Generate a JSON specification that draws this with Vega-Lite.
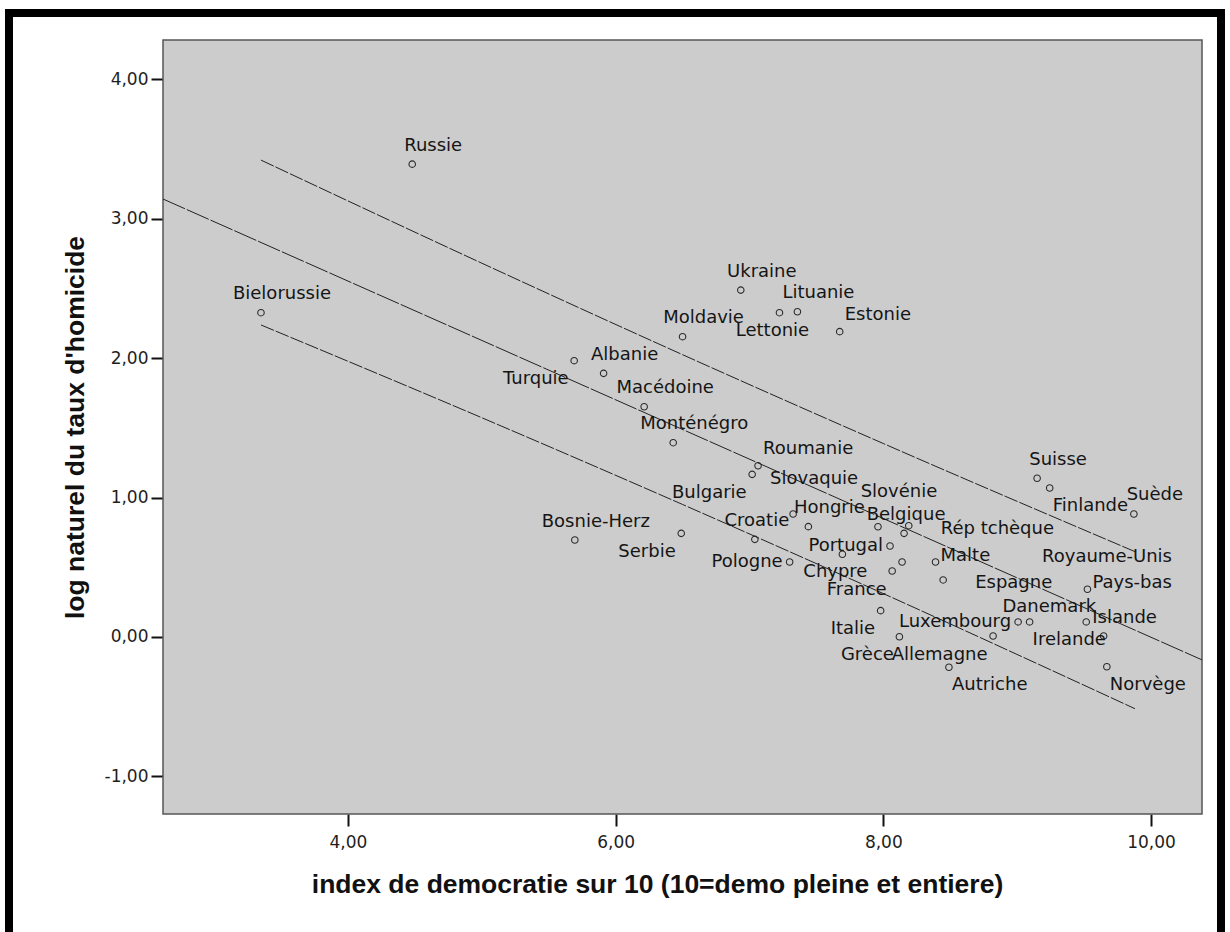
{
  "$schema": "https://vega.github.io/schema/vega-lite/v6.json",
  "width": 1212,
  "height": 924,
  "autosize": {"type": "none"},
  "padding": {"left": 9, "top": 13, "right": 9, "bottom": -5},
  "background": "white",
  "config": {
    "view": {"fill": "white", "stroke": "black", "strokeWidth": 8},
    "axis": {
      "grid": false,
      "domain": false,
      "tickColor": "#111111",
      "tickWidth": 2,
      "tickSize": 12,
      "labelFont": "DejaVu Sans",
      "labelFontSize": 17,
      "labelColor": "#1e1e1e",
      "labelFlush": false,
      "labelOverlap": false,
      "titleFont": "Liberation Sans",
      "titleFontSize": 26.5,
      "titleFontWeight": "bold",
      "titleColor": "#111111"
    },
    "axisX": {
      "orient": "bottom",
      "offset": -123,
      "labelExpr": "replace(format(datum.value, '.2f'), '.', ',')",
      "labelPadding": 8,
      "titlePadding": 21,
      "titleX": 648
    },
    "axisY": {
      "orient": "left",
      "offset": -154,
      "labelExpr": "replace(replace(format(datum.value, '.2f'), '.', ','), '\u2212', '-')",
      "labelPadding": 3,
      "titlePadding": 15
    },
    "text": {"font": "DejaVu Sans", "fontSize": 18, "color": "#151515", "baseline": "middle"}
  },
  "datasets": {
    "pays": [
      {"pays": "Russie", "democratie": 4.48, "log_homicide": 3.39, "place": "n"},
      {"pays": "Bielorussie", "democratie": 3.35, "log_homicide": 2.325, "place": "n"},
      {"pays": "Ukraine", "democratie": 6.935, "log_homicide": 2.487, "place": "n"},
      {"pays": "Lituanie", "democratie": 7.358, "log_homicide": 2.332, "place": "n"},
      {"pays": "Lettonie", "democratie": 7.224, "log_homicide": 2.325, "place": "s"},
      {"pays": "Estonie", "democratie": 7.674, "log_homicide": 2.189, "place": "ne"},
      {"pays": "Moldavie", "democratie": 6.5, "log_homicide": 2.153, "place": "n"},
      {"pays": "Turquie", "democratie": 5.69, "log_homicide": 1.981, "place": "sw"},
      {"pays": "Albanie", "democratie": 5.91, "log_homicide": 1.89, "place": "n"},
      {"pays": "Macédoine", "democratie": 6.213, "log_homicide": 1.651, "place": "n"},
      {"pays": "Monténégro", "democratie": 6.43, "log_homicide": 1.393, "place": "n"},
      {"pays": "Roumanie", "democratie": 7.064, "log_homicide": 1.228, "place": "ne"},
      {"pays": "Bulgarie", "democratie": 7.02, "log_homicide": 1.166, "place": "sw"},
      {"pays": "Croatie", "democratie": 7.04, "log_homicide": 0.7, "place": "nc"},
      {"pays": "Serbie", "democratie": 6.49, "log_homicide": 0.743, "place": "sw"},
      {"pays": "Bosnie-Herz", "democratie": 5.695, "log_homicide": 0.695, "place": "n"},
      {"pays": "Pologne", "democratie": 7.3, "log_homicide": 0.538, "place": "w"},
      {"pays": "Slovaquie", "democratie": 7.326, "log_homicide": 0.882, "place": "nn"},
      {"pays": "Hongrie", "democratie": 7.44, "log_homicide": 0.791, "place": "n"},
      {"pays": "Slovénie", "democratie": 7.96, "log_homicide": 0.79, "place": "nn"},
      {"pays": "Rép tchèque", "democratie": 8.19, "log_homicide": 0.798, "place": "ee"},
      {"pays": "Belgique", "democratie": 8.155, "log_homicide": 0.743, "place": "nc"},
      {"pays": "Chypre", "democratie": 7.694, "log_homicide": 0.593, "place": "s"},
      {"pays": "Portugal", "democratie": 8.05, "log_homicide": 0.652, "place": "w"},
      {"pays": "Royaume-Unis", "democratie": 8.14, "log_homicide": 0.538, "place": "far"},
      {"pays": "France", "democratie": 8.066, "log_homicide": 0.473, "place": "sw"},
      {"pays": "Malte", "democratie": 8.39, "log_homicide": 0.538, "place": "e"},
      {"pays": "Espagne", "democratie": 8.447, "log_homicide": 0.409, "place": "ee"},
      {"pays": "Suisse", "democratie": 9.149, "log_homicide": 1.138, "place": "n"},
      {"pays": "Finlande", "democratie": 9.243, "log_homicide": 1.068, "place": "se"},
      {"pays": "Suède", "democratie": 9.872, "log_homicide": 0.882, "place": "n"},
      {"pays": "Pays-bas", "democratie": 9.525, "log_homicide": 0.342, "place": "e"},
      {"pays": "Italie", "democratie": 7.98, "log_homicide": 0.189, "place": "sw"},
      {"pays": "Grèce", "democratie": 8.12, "log_homicide": 0.002, "place": "sw"},
      {"pays": "Allemagne", "democratie": 8.82, "log_homicide": 0.007, "place": "sw"},
      {"pays": "Luxembourg", "democratie": 9.007, "log_homicide": 0.108, "place": "w"},
      {"pays": "Irelande", "democratie": 9.093, "log_homicide": 0.108, "place": "se"},
      {"pays": "Danemark", "democratie": 9.516, "log_homicide": 0.108, "place": "nw"},
      {"pays": "Islande", "democratie": 9.646, "log_homicide": 0.007, "place": "n"},
      {"pays": "Autriche", "democratie": 8.49, "log_homicide": -0.217, "place": "se"},
      {"pays": "Norvège", "democratie": 9.67, "log_homicide": -0.213, "place": "se"}
    ],
    "ajustement": [
      {"courbe": "moyenne", "democratie": 2.618, "log_homicide": 3.14},
      {"courbe": "moyenne", "democratie": 10.381, "log_homicide": -0.164},
      {"courbe": "haute", "democratie": 3.35, "log_homicide": 3.419},
      {"courbe": "haute", "democratie": 5.0, "log_homicide": 2.68},
      {"courbe": "haute", "democratie": 6.5, "log_homicide": 2.024},
      {"courbe": "haute", "democratie": 8.0, "log_homicide": 1.387},
      {"courbe": "haute", "democratie": 9.88, "log_homicide": 0.612},
      {"courbe": "basse", "democratie": 3.35, "log_homicide": 2.237},
      {"courbe": "basse", "democratie": 5.0, "log_homicide": 1.572},
      {"courbe": "basse", "democratie": 6.5, "log_homicide": 0.95},
      {"courbe": "basse", "democratie": 8.0, "log_homicide": 0.311},
      {"courbe": "basse", "democratie": 9.88, "log_homicide": -0.514}
    ]
  },
  "layer": [
    {
      "data": {"values": [{"zone": "graphique"}]},
      "mark": {"type": "rect", "fill": "#cccccc", "stroke": "#555555", "strokeWidth": 1.5},
      "encoding": {
        "x": {"datum": 2.618, "type": "quantitative", "scale": {"domain": [2.618, 10.381], "range": [154, 1193], "zero": false, "nice": false}, "title": "index de democratie sur 10 (10=demo pleine et entiere)", "axis": {"values": [4, 6, 8, 10]}},
        "x2": {"datum": 10.381},
        "y": {"datum": -1.269, "type": "quantitative", "scale": {"domain": [-1.269, 4.28], "range": [801, 27], "zero": false, "nice": false}, "title": "log naturel du taux d'homicide", "axis": {"values": [-1, 0, 1, 2, 3, 4]}},
        "y2": {"datum": 4.28}
      }
    },
    {
      "data": {"name": "ajustement"},
      "transform": [{"filter": "datum.courbe === 'moyenne'"}],
      "mark": {"type": "line", "color": "#222222", "strokeWidth": 1, "strokeDash": [24, 2]},
      "encoding": {
        "x": {"field": "democratie", "type": "quantitative", "scale": {"domain": [2.618, 10.381], "range": [154, 1193], "zero": false, "nice": false}, "title": "index de democratie sur 10 (10=demo pleine et entiere)", "axis": {"values": [4, 6, 8, 10]}},
        "y": {"field": "log_homicide", "type": "quantitative", "scale": {"domain": [-1.269, 4.28], "range": [801, 27], "zero": false, "nice": false}, "title": "log naturel du taux d'homicide", "axis": {"values": [-1, 0, 1, 2, 3, 4]}},
        "detail": {"field": "courbe"}
      }
    },
    {
      "data": {"name": "ajustement"},
      "transform": [{"filter": "datum.courbe !== 'moyenne'"}],
      "mark": {"type": "line", "color": "#222222", "strokeWidth": 1, "strokeDash": [14, 2], "interpolate": "monotone"},
      "encoding": {
        "x": {"field": "democratie", "type": "quantitative", "scale": {"domain": [2.618, 10.381], "range": [154, 1193], "zero": false, "nice": false}, "title": "index de democratie sur 10 (10=demo pleine et entiere)", "axis": {"values": [4, 6, 8, 10]}},
        "y": {"field": "log_homicide", "type": "quantitative", "scale": {"domain": [-1.269, 4.28], "range": [801, 27], "zero": false, "nice": false}, "title": "log naturel du taux d'homicide", "axis": {"values": [-1, 0, 1, 2, 3, 4]}},
        "detail": {"field": "courbe"}
      }
    },
    {
      "data": {"name": "pays"},
      "mark": {"type": "point", "shape": "circle", "size": 42, "filled": false, "stroke": "#2a2a2a", "strokeWidth": 1.1, "opacity": 1},
      "encoding": {
        "x": {"field": "democratie", "type": "quantitative", "scale": {"domain": [2.618, 10.381], "range": [154, 1193], "zero": false, "nice": false}, "title": "index de democratie sur 10 (10=demo pleine et entiere)", "axis": {"values": [4, 6, 8, 10]}},
        "y": {"field": "log_homicide", "type": "quantitative", "scale": {"domain": [-1.269, 4.28], "range": [801, 27], "zero": false, "nice": false}, "title": "log naturel du taux d'homicide", "axis": {"values": [-1, 0, 1, 2, 3, 4]}}
      }
    },
    {
      "data": {"name": "pays"},
      "transform": [{"filter": "datum.place === 'n'"}],
      "mark": {"type": "text", "align": "center", "dx": 21, "dy": -18.5},
      "encoding": {
        "x": {"field": "democratie", "type": "quantitative", "scale": {"domain": [2.618, 10.381], "range": [154, 1193], "zero": false, "nice": false}, "title": "index de democratie sur 10 (10=demo pleine et entiere)", "axis": {"values": [4, 6, 8, 10]}},
        "y": {"field": "log_homicide", "type": "quantitative", "scale": {"domain": [-1.269, 4.28], "range": [801, 27], "zero": false, "nice": false}, "title": "log naturel du taux d'homicide", "axis": {"values": [-1, 0, 1, 2, 3, 4]}},
        "text": {"field": "pays"}
      }
    },
    {
      "data": {"name": "pays"},
      "transform": [{"filter": "datum.place === 'nn'"}],
      "mark": {"type": "text", "align": "center", "dx": 21, "dy": -34.5},
      "encoding": {
        "x": {"field": "democratie", "type": "quantitative", "scale": {"domain": [2.618, 10.381], "range": [154, 1193], "zero": false, "nice": false}, "title": "index de democratie sur 10 (10=demo pleine et entiere)", "axis": {"values": [4, 6, 8, 10]}},
        "y": {"field": "log_homicide", "type": "quantitative", "scale": {"domain": [-1.269, 4.28], "range": [801, 27], "zero": false, "nice": false}, "title": "log naturel du taux d'homicide", "axis": {"values": [-1, 0, 1, 2, 3, 4]}},
        "text": {"field": "pays"}
      }
    },
    {
      "data": {"name": "pays"},
      "transform": [{"filter": "datum.place === 'nc'"}],
      "mark": {"type": "text", "align": "center", "dx": 2, "dy": -18.5},
      "encoding": {
        "x": {"field": "democratie", "type": "quantitative", "scale": {"domain": [2.618, 10.381], "range": [154, 1193], "zero": false, "nice": false}, "title": "index de democratie sur 10 (10=demo pleine et entiere)", "axis": {"values": [4, 6, 8, 10]}},
        "y": {"field": "log_homicide", "type": "quantitative", "scale": {"domain": [-1.269, 4.28], "range": [801, 27], "zero": false, "nice": false}, "title": "log naturel du taux d'homicide", "axis": {"values": [-1, 0, 1, 2, 3, 4]}},
        "text": {"field": "pays"}
      }
    },
    {
      "data": {"name": "pays"},
      "transform": [{"filter": "datum.place === 'ne'"}],
      "mark": {"type": "text", "align": "left", "dx": 5, "dy": -16.7},
      "encoding": {
        "x": {"field": "democratie", "type": "quantitative", "scale": {"domain": [2.618, 10.381], "range": [154, 1193], "zero": false, "nice": false}, "title": "index de democratie sur 10 (10=demo pleine et entiere)", "axis": {"values": [4, 6, 8, 10]}},
        "y": {"field": "log_homicide", "type": "quantitative", "scale": {"domain": [-1.269, 4.28], "range": [801, 27], "zero": false, "nice": false}, "title": "log naturel du taux d'homicide", "axis": {"values": [-1, 0, 1, 2, 3, 4]}},
        "text": {"field": "pays"}
      }
    },
    {
      "data": {"name": "pays"},
      "transform": [{"filter": "datum.place === 'nw'"}],
      "mark": {"type": "text", "align": "right", "dx": 10, "dy": -15},
      "encoding": {
        "x": {"field": "democratie", "type": "quantitative", "scale": {"domain": [2.618, 10.381], "range": [154, 1193], "zero": false, "nice": false}, "title": "index de democratie sur 10 (10=demo pleine et entiere)", "axis": {"values": [4, 6, 8, 10]}},
        "y": {"field": "log_homicide", "type": "quantitative", "scale": {"domain": [-1.269, 4.28], "range": [801, 27], "zero": false, "nice": false}, "title": "log naturel du taux d'homicide", "axis": {"values": [-1, 0, 1, 2, 3, 4]}},
        "text": {"field": "pays"}
      }
    },
    {
      "data": {"name": "pays"},
      "transform": [{"filter": "datum.place === 's'"}],
      "mark": {"type": "text", "align": "center", "dx": -7, "dy": 18},
      "encoding": {
        "x": {"field": "democratie", "type": "quantitative", "scale": {"domain": [2.618, 10.381], "range": [154, 1193], "zero": false, "nice": false}, "title": "index de democratie sur 10 (10=demo pleine et entiere)", "axis": {"values": [4, 6, 8, 10]}},
        "y": {"field": "log_homicide", "type": "quantitative", "scale": {"domain": [-1.269, 4.28], "range": [801, 27], "zero": false, "nice": false}, "title": "log naturel du taux d'homicide", "axis": {"values": [-1, 0, 1, 2, 3, 4]}},
        "text": {"field": "pays"}
      }
    },
    {
      "data": {"name": "pays"},
      "transform": [{"filter": "datum.place === 'se'"}],
      "mark": {"type": "text", "align": "left", "dx": 3, "dy": 18},
      "encoding": {
        "x": {"field": "democratie", "type": "quantitative", "scale": {"domain": [2.618, 10.381], "range": [154, 1193], "zero": false, "nice": false}, "title": "index de democratie sur 10 (10=demo pleine et entiere)", "axis": {"values": [4, 6, 8, 10]}},
        "y": {"field": "log_homicide", "type": "quantitative", "scale": {"domain": [-1.269, 4.28], "range": [801, 27], "zero": false, "nice": false}, "title": "log naturel du taux d'homicide", "axis": {"values": [-1, 0, 1, 2, 3, 4]}},
        "text": {"field": "pays"}
      }
    },
    {
      "data": {"name": "pays"},
      "transform": [{"filter": "datum.place === 'sw'"}],
      "mark": {"type": "text", "align": "right", "dx": -5.5, "dy": 18.5},
      "encoding": {
        "x": {"field": "democratie", "type": "quantitative", "scale": {"domain": [2.618, 10.381], "range": [154, 1193], "zero": false, "nice": false}, "title": "index de democratie sur 10 (10=demo pleine et entiere)", "axis": {"values": [4, 6, 8, 10]}},
        "y": {"field": "log_homicide", "type": "quantitative", "scale": {"domain": [-1.269, 4.28], "range": [801, 27], "zero": false, "nice": false}, "title": "log naturel du taux d'homicide", "axis": {"values": [-1, 0, 1, 2, 3, 4]}},
        "text": {"field": "pays"}
      }
    },
    {
      "data": {"name": "pays"},
      "transform": [{"filter": "datum.place === 'e'"}],
      "mark": {"type": "text", "align": "left", "dx": 5, "dy": -6},
      "encoding": {
        "x": {"field": "democratie", "type": "quantitative", "scale": {"domain": [2.618, 10.381], "range": [154, 1193], "zero": false, "nice": false}, "title": "index de democratie sur 10 (10=demo pleine et entiere)", "axis": {"values": [4, 6, 8, 10]}},
        "y": {"field": "log_homicide", "type": "quantitative", "scale": {"domain": [-1.269, 4.28], "range": [801, 27], "zero": false, "nice": false}, "title": "log naturel du taux d'homicide", "axis": {"values": [-1, 0, 1, 2, 3, 4]}},
        "text": {"field": "pays"}
      }
    },
    {
      "data": {"name": "pays"},
      "transform": [{"filter": "datum.place === 'ee'"}],
      "mark": {"type": "text", "align": "left", "dx": 32, "dy": 3},
      "encoding": {
        "x": {"field": "democratie", "type": "quantitative", "scale": {"domain": [2.618, 10.381], "range": [154, 1193], "zero": false, "nice": false}, "title": "index de democratie sur 10 (10=demo pleine et entiere)", "axis": {"values": [4, 6, 8, 10]}},
        "y": {"field": "log_homicide", "type": "quantitative", "scale": {"domain": [-1.269, 4.28], "range": [801, 27], "zero": false, "nice": false}, "title": "log naturel du taux d'homicide", "axis": {"values": [-1, 0, 1, 2, 3, 4]}},
        "text": {"field": "pays"}
      }
    },
    {
      "data": {"name": "pays"},
      "transform": [{"filter": "datum.place === 'w'"}],
      "mark": {"type": "text", "align": "right", "dx": -7, "dy": 0},
      "encoding": {
        "x": {"field": "democratie", "type": "quantitative", "scale": {"domain": [2.618, 10.381], "range": [154, 1193], "zero": false, "nice": false}, "title": "index de democratie sur 10 (10=demo pleine et entiere)", "axis": {"values": [4, 6, 8, 10]}},
        "y": {"field": "log_homicide", "type": "quantitative", "scale": {"domain": [-1.269, 4.28], "range": [801, 27], "zero": false, "nice": false}, "title": "log naturel du taux d'homicide", "axis": {"values": [-1, 0, 1, 2, 3, 4]}},
        "text": {"field": "pays"}
      }
    },
    {
      "data": {"name": "pays"},
      "transform": [{"filter": "datum.place === 'far'"}],
      "mark": {"type": "text", "align": "left", "dx": 140, "dy": -5},
      "encoding": {
        "x": {"field": "democratie", "type": "quantitative", "scale": {"domain": [2.618, 10.381], "range": [154, 1193], "zero": false, "nice": false}, "title": "index de democratie sur 10 (10=demo pleine et entiere)", "axis": {"values": [4, 6, 8, 10]}},
        "y": {"field": "log_homicide", "type": "quantitative", "scale": {"domain": [-1.269, 4.28], "range": [801, 27], "zero": false, "nice": false}, "title": "log naturel du taux d'homicide", "axis": {"values": [-1, 0, 1, 2, 3, 4]}},
        "text": {"field": "pays"}
      }
    }
  ]
}
